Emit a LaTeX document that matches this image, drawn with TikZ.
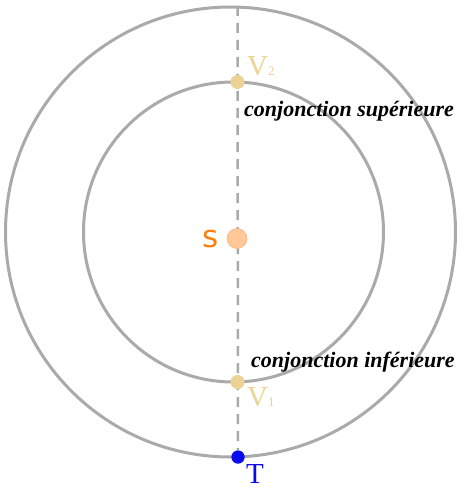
\documentclass[tikz,border=0pt]{standalone}
\usepackage{fontspec}
\setmainfont{Liberation Serif}
\newfontfamily\sunfont{DejaVu Sans}
\definecolor{orbit}{HTML}{AAAAAA}
\definecolor{venus}{HTML}{EBD393}
\definecolor{sunfill}{HTML}{FFC896}
\definecolor{sunedge}{HTML}{F5B882}
\definecolor{sorange}{HTML}{FF7F0E}
\definecolor{earth}{HTML}{0A0AF0}
\tikzset{
  orbitline/.style={draw=orbit, line width=3pt},
  axisline/.style={draw=orbit, line width=2.5pt, dash pattern=on 10pt off 7pt},
  venusdot/.style={circle, fill=venus, inner sep=0pt, minimum size=14pt},
  earthdot/.style={circle, fill=earth, inner sep=0pt, minimum size=13pt},
  sundot/.style={circle, fill=sunfill, draw=sunedge, line width=0.6pt, inner sep=0pt, minimum size=20pt},
  vlabel/.style={text=venus, inner sep=0pt, anchor=base west},
  conj/.style={inner sep=0pt, anchor=base west, font=\fontsize{22}{22}\selectfont\bfseries\itshape}
}
\begin{document}
\begin{tikzpicture}[x=1pt,y=-1pt]
\useasboundingbox (0,0) rectangle (470,492);
\draw[orbitline] (230.5,232) circle (225);
\draw[orbitline] (233.5,232) circle (150);
\coordinate (top) at (237.5,6);
\node[earthdot] (T) at (238,457) {};
\draw[axisline] (top) -- (T.center);
\node[earthdot] at (238,457) {};
\node[venusdot] (V2) at (237.5,82) {};
\node[venusdot] (V1) at (237.5,382) {};
\node[sundot] (S) at (237,238.5) {};
\node[text=sorange, inner sep=0pt, anchor=base west, font=\sunfont\fontsize{31}{31}\selectfont] (Slab) at (202,247) {s};
\node[vlabel] (V2lab) at (247,76) {{\fontsize{29}{29}\selectfont V}{\fontsize{13}{13}\selectfont 2}};
\node[vlabel] (V1lab) at (247,406) {{\fontsize{29}{29}\selectfont V}{\fontsize{13}{13}\selectfont 1}};
\node[text=earth, inner sep=0pt, anchor=base west, font=\fontsize{29}{29}\selectfont] (Tlab) at (246,483) {T};
\node[conj] (sup) at (244,117) {conjonction supérieure};
\node[conj] (inf) at (251,367) {conjonction inférieure};
\end{tikzpicture}
\end{document}
